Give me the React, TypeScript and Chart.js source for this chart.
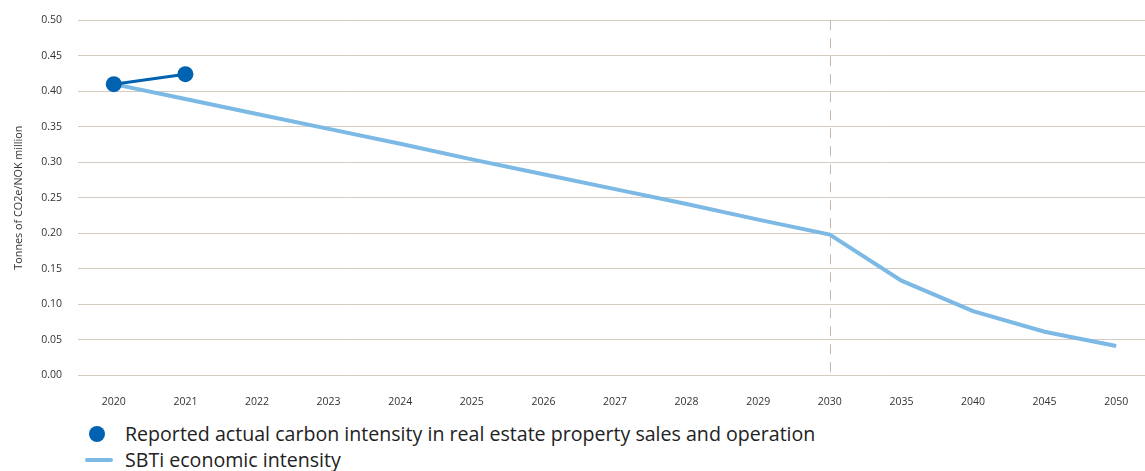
import React, { useEffect, useRef } from "react";
import { Chart, registerables } from "chart.js";

Chart.register(...registerables);

const categories = ["2020","2021","2022","2023","2024","2025","2026","2027","2028","2029","2030","2035","2040","2045","2050"];
const reported = [0.41, 0.424, null, null, null, null, null, null, null, null, null, null, null, null, null];
const sbti = [0.41, 0.389, 0.368, 0.347, 0.326, 0.304, 0.283, 0.262, 0.241, 0.219, 0.198, 0.133, 0.09, 0.061, 0.041];
const yTicks = [0, 0.05, 0.1, 0.15, 0.2, 0.25, 0.3, 0.35, 0.4, 0.45, 0.5];
const markerCategory = "2030";
const reportedLabel = "Reported actual carbon intensity in real estate property sales and operation";
const sbtiLabel = "SBTi economic intensity";
const yTitle = "Tonnes of CO2e/NOK million";

const DARK = "#0062b1";
const LIGHT = "#7cb9e4";
const GRID = "#d4cbc2";
const FONT = "'Open Sans', 'Noto Sans', sans-serif";

const markerPlugin = {
  id: "marker",
  beforeDatasetsDraw(chart: any) {
    const x = chart.scales.x.getPixelForValue(categories.indexOf(markerCategory));
    const { top, bottom } = chart.chartArea;
    const ctx = chart.ctx;
    ctx.save();
    ctx.strokeStyle = "#c4b8ad";
    ctx.lineWidth = 1;
    ctx.setLineDash([10, 8]);
    ctx.beginPath();
    ctx.moveTo(Math.round(x) + 0.5, top);
    ctx.lineTo(Math.round(x) + 0.5, bottom);
    ctx.stroke();
    ctx.restore();
  },
};

export default function App() {
  const ref = useRef<HTMLCanvasElement>(null);
  useEffect(() => {
    if (!ref.current) return;
    const chart = new Chart(ref.current, {
      type: "line",
      data: {
        labels: categories,
        datasets: [
          {
            label: reportedLabel,
            data: reported,
            borderColor: DARK,
            backgroundColor: DARK,
            borderWidth: 3,
            pointRadius: 8,
            pointHoverRadius: 8,
            pointBorderWidth: 0,
            spanGaps: false,
          },
          {
            label: sbtiLabel,
            data: sbti,
            borderColor: LIGHT,
            backgroundColor: LIGHT,
            borderWidth: 4,
            pointRadius: 0,
            tension: 0,
          },
        ],
      },
      options: {
        responsive: false,
        animation: false,
        layout: { padding: { top: 13, right: 0, left: 0, bottom: 0 } },
        plugins: {
          legend: { display: false },
          tooltip: { enabled: false },
        },
        scales: {
          x: {
            offset: true,
            grid: { display: false, drawTicks: false },
            border: { display: false },
            ticks: { color: "#333", font: { family: FONT, size: 10.5 }, padding: 21, maxRotation: 0, autoSkip: false },
            afterFit(scale: any) { scale.height = 35; },
          },
          y: {
            min: 0,
            max: 0.5,
            afterBuildTicks(scale: any) { scale.ticks = yTicks.map((v) => ({ value: v })); },
            grid: { color: GRID, lineWidth: 1, drawTicks: false },
            border: { display: false },
            ticks: {
              color: "#333",
              font: { family: FONT, size: 10.5 },
              padding: 16,
              callback: (v: any) => Number(v).toFixed(2),
            },
            title: { display: true, text: yTitle, color: "#333", font: { family: FONT, size: 10.8 }, padding: { top: 12, bottom: 0 } },
            afterFit(scale: any) { scale.width = 78; },
          },
        },
      },
      plugins: [markerPlugin],
    });
    return () => chart.destroy();
  }, []);

  return (
    <div style={{ position: "fixed", left: 0, top: 0, width: 1145, height: 471, overflow: "hidden", background: "#fff", fontFamily: FONT }}>
      <canvas ref={ref} width={1160} height={412} style={{ position: "absolute", left: 0, top: -2, width: 1160, height: 412 }} />
      <div style={{ position: "absolute", left: 85, top: 421, color: "#222", fontSize: 19.6, lineHeight: "26px" }}>
        <div style={{ display: "flex", alignItems: "center" }}>
          <span style={{ width: 16, height: 16, borderRadius: "50%", background: DARK, marginLeft: 4, marginRight: 20 }} />
          <span>{reportedLabel}</span>
        </div>
        <div style={{ display: "flex", alignItems: "center" }}>
          <span style={{ width: 28, height: 4, borderRadius: 2, background: LIGHT, marginRight: 12 }} />
          <span>{sbtiLabel}</span>
        </div>
      </div>
    </div>
  );
}
